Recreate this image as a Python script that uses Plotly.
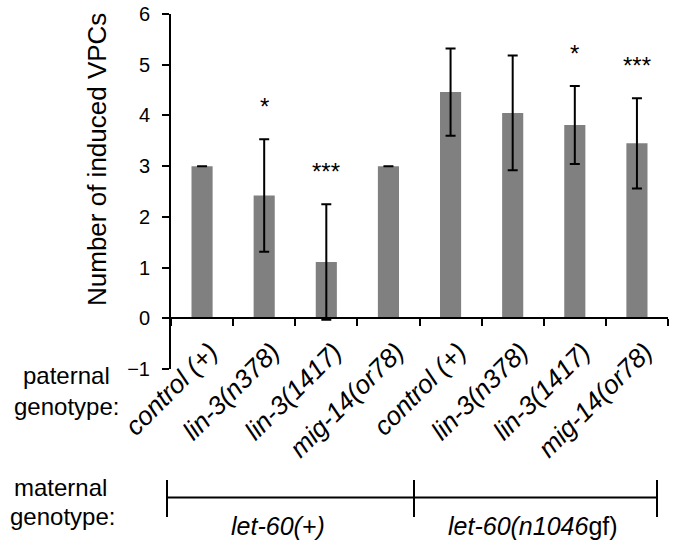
import plotly.graph_objects as go

categories = ["control (+)", "lin-3(n378)", "lin-3(1417)", "mig-14(or78)",
              "control (+)", "lin-3(n378)", "lin-3(1417)", "mig-14(or78)"]
tick_labels = ["<i>control (+)</i>", "<i>lin-3(n378)</i>", "<i>lin-3(1417)</i>", "<i>mig-14(or78)</i>",
               "<i>control (+)</i>", "<i>lin-3(n378)</i>", "<i>lin-3(1417)</i>", "<i>mig-14(or78)</i>"]
values = [3.0, 2.42, 1.11, 3.0, 4.46, 4.05, 3.81, 3.45]
errors = [0.0, 1.11, 1.14, 0.0, 0.86, 1.13, 0.77, 0.89]
significance = ["", "*", "***", "", "", "", "*", "***"]
maternal_groups = ["<i>let-60(+)</i>", "<i>let-60(n1046</i>gf)"]
y_title = "Number of induced VPCs"

# the page's body margin is removed in out.html (post_script), so figure = window
O = 0
W, H = 673 - O, 544 - O
L, R, T, B = 171 - O, 5, 14 - O, 175
PW, PH = W - L - R, H - T - B

def px(x):  # reference-pixel x -> paper fraction
    return (x - O - L) / PW

def py(y):  # reference-pixel y -> paper fraction
    return (H - B - (y - O)) / PH

FONT = "Arial, 'Liberation Sans', sans-serif"
xs = list(range(len(values)))

fig = go.Figure()
fig.add_trace(go.Bar(
    x=xs, y=values, width=0.34,
    marker=dict(color="#808080", line=dict(width=0)),
    error_y=dict(type="data", array=errors, visible=True, color="black", thickness=2, width=5),
    showlegend=False, hoverinfo="skip",
))

annotations = []
for i, s in enumerate(significance):
    if s:
        annotations.append(dict(x=i, y=values[i] + errors[i] + 0.64, xref="x", yref="y",
                                text=s, showarrow=False, yanchor="middle",
                                font=dict(size=24, color="black", family=FONT)))

annotations.append(dict(x=px(97), y=py(160), xref="paper", yref="paper", text=y_title,
                        textangle=-90, showarrow=False, xanchor="center", yanchor="middle",
                        font=dict(size=26, color="black", family=FONT)))
for txt, cx, cy in [("paternal", 66, 375), ("genotype:", 66, 406),
                    ("maternal", 60, 487), ("genotype:", 62, 516)]:
    annotations.append(dict(x=px(cx), y=py(cy), xref="paper", yref="paper", text=txt,
                            showarrow=False, xanchor="center", yanchor="middle",
                            font=dict(size=24, color="black", family=FONT)))
for txt, cx in zip(maternal_groups, [278, 533]):
    annotations.append(dict(x=px(cx), y=py(526), xref="paper", yref="paper", text=txt,
                            showarrow=False, xanchor="center", yanchor="middle",
                            font=dict(size=25, color="black", family=FONT)))

shapes = []
line = dict(color="black", width=2)
shapes.append(dict(type="line", xref="paper", yref="paper", x0=px(167), x1=px(657),
                   y0=py(497.5), y1=py(497.5), line=line))
for bx in [167, 414, 657]:
    shapes.append(dict(type="line", xref="paper", yref="paper", x0=px(bx), x1=px(bx),
                       y0=py(480), y1=py(517), line=line))

fig.update_layout(
    width=W, height=H,
    margin=dict(l=L, r=R, t=T, b=B, pad=0, autoexpand=False),
    paper_bgcolor="white", plot_bgcolor="white",
    font=dict(family=FONT, color="black"),
    annotations=annotations, shapes=shapes,
)
fig.update_yaxes(range=[-1, 6], dtick=1, tick0=0, showgrid=False, zeroline=False,
                 automargin=False,
                 showline=True, linecolor="black", linewidth=2,
                 ticks="outside", ticklen=7, tickwidth=2, tickcolor="black",
                 ticklabelstandoff=8, ticklabeloverflow="allow",
                 tickfont=dict(size=20, family=FONT, color="black"))
fig.update_xaxes(type="linear", range=[-0.5, 7.5], tickmode="array", tickvals=xs, ticktext=tick_labels,
                 anchor="free", position=1/7, showgrid=False, zeroline=False,
                 automargin=False,
                 showline=True, linecolor="black", linewidth=2,
                 ticks="", tickangle=-45, ticklabelstandoff=7, ticklabelshift=8,
                 ticklabeloverflow="allow",
                 tickfont=dict(size=26, family=FONT, color="black"),
                 minor=dict(tickmode="array", tickvals=[i + 0.5 for i in range(-1, len(values))],
                            ticks="outside", ticklen=7, tickwidth=2, tickcolor="black", showgrid=False))

fig.write_html("out.html", config={"displayModeBar": False},
               post_script="document.body.style.margin='0px';document.body.style.overflow='hidden';")
